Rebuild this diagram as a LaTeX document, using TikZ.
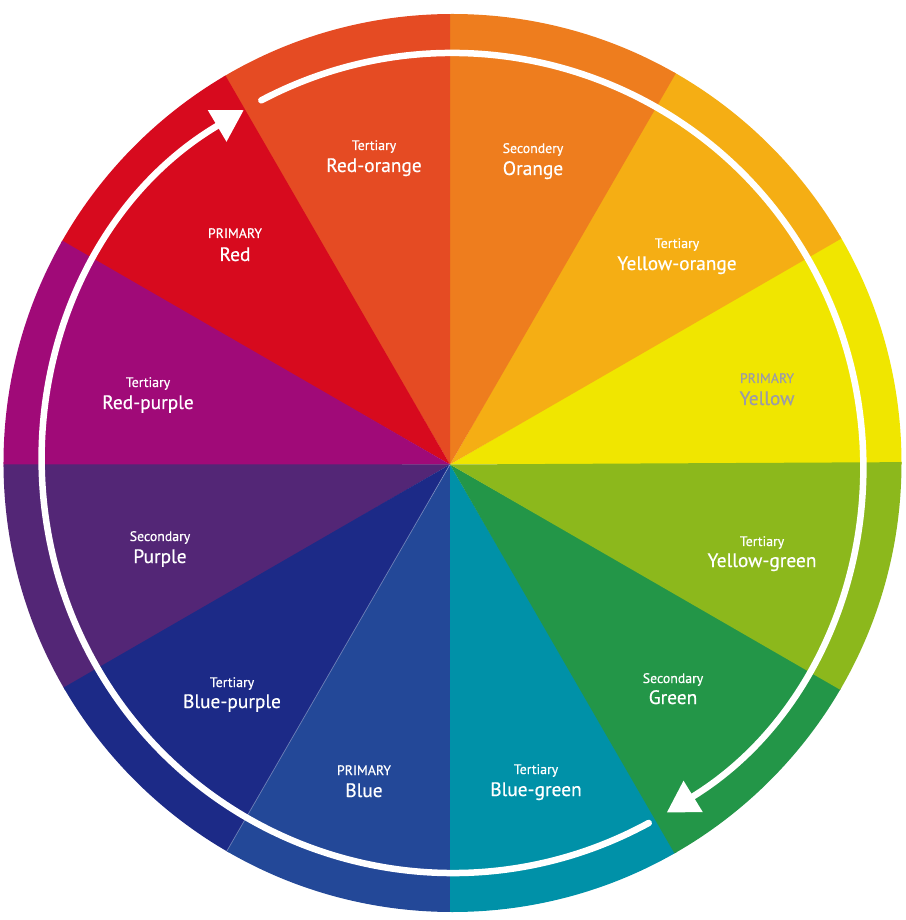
\documentclass[tikz,border=0pt]{standalone}
\usepackage{fontspec}
\setmainfont{PT Sans}
\newfontfamily\lblfont{PT Sans}[FakeBold=0.5]
\usetikzlibrary{arrows.meta}
\definecolor{cYellow}{RGB}{240,230,0}
\definecolor{cYelOr}{RGB}{245,174,20}
\definecolor{cOrange}{RGB}{238,125,30}
\definecolor{cRedOr}{RGB}{229,75,35}
\definecolor{cRed}{RGB}{215,10,30}
\definecolor{cRedPu}{RGB}{160,10,120}
\definecolor{cPurple}{RGB}{83,38,118}
\definecolor{cBluePu}{RGB}{28,42,135}
\definecolor{cBlue}{RGB}{35,72,152}
\definecolor{cBlueGr}{RGB}{0,145,168}
\definecolor{cGreen}{RGB}{35,150,72}
\definecolor{cYelGr}{RGB}{140,184,28}
\definecolor{cGrayText}{RGB}{155,155,168}
\begin{document}
\begin{tikzpicture}[x=1pt,y=1pt,
  lblsmall/.style={text=white, font=\lblfont\fontsize{13.8}{14}\selectfont, anchor=base, inner sep=0pt},
  lblbig/.style={text=white, font=\lblfont\fontsize{19.4}{20}\selectfont, anchor=base, inner sep=0pt},
  ringarrow/.style={white, line width=6.5pt, line cap=round, -{Triangle[length=31pt,width=35pt]}}]
\fill[white] (-452.5,-457) rectangle (452.5,463);
\useasboundingbox (-452.5,-457) rectangle (452.5,463);
\begin{scope}
  \clip (0,0) circle[radius=449];
  \coordinate (apex) at (-2.5,-1.5);
  \foreach \a/\c in {0/cYellow,30/cYelOr,60/cOrange,90/cRedOr,120/cRed,150/cRedPu,
                     180/cPurple,210/cBluePu,240/cBlue,270/cBlueGr,300/cGreen,330/cYelGr}{
    \fill[\c] (apex) -- ++(\a:480) arc[start angle=\a, end angle=\a+30.3, radius=480] -- cycle;
  }
  \draw[white, opacity=0.35, line width=0.7pt] (apex) -- ++(240:480);
\end{scope}
% ring arrows
\draw[ringarrow] (117.8:410) arc[start angle=117.8, end angle=-58.5, radius=410];
\draw[ringarrow] (-61.4:410) arc[start angle=-61.4, end angle=-239.4, radius=410];
% labels
\node[lblsmall] (ro-s) at (-78.5,313) {Tertiary};
\node[lblbig]   (ro-n) at (-78.5,291) {Red-orange};
\node[lblsmall] (re-s) at (-217.5,225) {PRIMARY};
\node[lblbig]   (re-n) at (-217.5,202) {Red};
\node[lblsmall] (rp-s) at (-304.5,76) {Tertiary};
\node[lblbig]   (rp-n) at (-304.5,54) {Red-purple};
\node[lblsmall] (or-s) at (80.5,310) {Secondery};
\node[lblbig]   (or-n) at (80.5,288) {Orange};
\node[lblsmall] (yo-s) at (224.5,215) {Tertiary};
\node[lblbig]   (yo-n) at (224.5,193) {Yellow-orange};
\node[lblsmall, text=cGrayText] (ye-s) at (314.5,80) {PRIMARY};
\node[lblbig, text=cGrayText]   (ye-n) at (314.5,58) {Yellow};
\node[lblsmall] (pu-s) at (-292.5,-78) {Secondary};
\node[lblbig]   (pu-n) at (-292.5,-100) {Purple};
\node[lblsmall] (bp-s) at (-220.5,-224) {Tertiary};
\node[lblbig]   (bp-n) at (-220.5,-245) {Blue-purple};
\node[lblsmall] (bl-s) at (-88.5,-312) {PRIMARY};
\node[lblbig]   (bl-n) at (-88.5,-334) {Blue};
\node[lblsmall] (yg-s) at (309.5,-83) {Tertiary};
\node[lblbig]   (yg-n) at (309.5,-104) {Yellow-green};
\node[lblsmall] (gr-s) at (220.5,-220) {Secondary};
\node[lblbig]   (gr-n) at (220.5,-241) {Green};
\node[lblsmall] (bg-s) at (83.5,-311) {Tertiary};
\node[lblbig]   (bg-n) at (83.5,-333) {Blue-green};
\end{tikzpicture}
\end{document}
